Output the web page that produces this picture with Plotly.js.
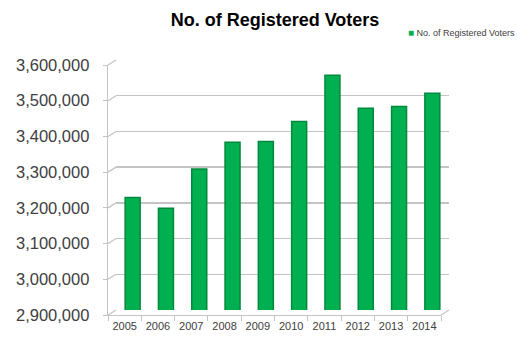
<!DOCTYPE html>
<html>
<head>
<meta charset="utf-8">
<script src="https://cdn.plot.ly/plotly-3.0.1.min.js"></script>
<style>html,body{margin:0;padding:0;background:#fff;}#chart{width:529px;height:340px;}</style>
</head>
<body>
<div id="chart"></div>
<script>
const years = ['2005','2006','2007','2008','2009','2010','2011','2012','2013','2014'];
const voters = [3215000, 3185000, 3295000, 3370000, 3372000, 3428000, 3557000, 3465000, 3470000, 3507000];
const yTicks = [2900000, 3000000, 3100000, 3200000, 3300000, 3400000, 3500000, 3600000];
const seriesName = 'No. of Registered Voters';
const chartTitle = 'No. of Registered Voters';

const W = 529, H = 340;
const yMin = 2900000, yMax = 3600000;
// pixel geometry (back wall = bars & grid, front = axis)
const back = {x0: 116, x1: 449, yb: 310, yt: 60};
const front = {x0: 108, x1: 441, yb: 315, yt: 65};
const px = x => x / W;
const py = y => (H - y) / H;

const gridColor = '#c4c4c4';
const barColor = '#00b050';
const shapes = [];
yTicks.forEach(v => {
  const f = (v - yMin) / (yMax - yMin);
  const yf = front.yb - f * (front.yb - front.yt);
  const yb = back.yb - f * (back.yb - back.yt);
  shapes.push({type: 'line', xref: 'paper', yref: 'paper',
    x0: px(front.x0), y0: py(yf), x1: px(back.x0), y1: py(yb),
    line: {color: gridColor, width: 1.3}});
});
shapes.push({type: 'line', xref: 'paper', yref: 'paper',
  x0: px(front.x1), y0: py(front.yb), x1: px(back.x1), y1: py(back.yb),
  line: {color: gridColor, width: 1.3}});

const data = [
  {type: 'bar', x: years, y: voters, name: seriesName, xaxis: 'x', yaxis: 'y',
   width: 0.45,
   marker: {color: barColor, line: {color: '#00893c', width: 1.5}},
   showlegend: false},
  {type: 'scatter', mode: 'markers', x: years, y: voters, xaxis: 'x2', yaxis: 'y2',
   marker: {opacity: 0}, hoverinfo: 'skip', showlegend: false}
];

const layout = {
  width: W, height: H,
  margin: {l: 0, r: 0, t: 0, b: 0},
  paper_bgcolor: '#fff', plot_bgcolor: 'rgba(0,0,0,0)',
  font: {family: 'Liberation Sans, Arial, sans-serif', color: '#404040'},
  title: {text: chartTitle, x: 275 / W, xanchor: 'center', y: py(20), yanchor: 'middle',
          font: {size: 18, color: '#000', family: 'Liberation Sans, Arial, sans-serif', weight: 'bold'}},
  showlegend: false,
  annotations: [{xref: 'paper', yref: 'paper', x: px(406), y: py(32), xanchor: 'left', yanchor: 'middle',
    showarrow: false,
    text: '<span style="color:' + barColor + ';font-size:10px">■</span> ' + seriesName,
    font: {size: 9, color: '#404040'}}],
  xaxis: {domain: [px(back.x0), px(back.x1)], anchor: 'y', type: 'category',
          categoryarray: years, range: [-0.5, 9.5], showticklabels: false,
          showgrid: false, zeroline: false, showline: false, ticks: ''},
  yaxis: {domain: [py(back.yb), py(back.yt)], anchor: 'x', range: [yMin, yMax],
          tickvals: yTicks, showticklabels: false, showgrid: true, gridcolor: gridColor,
          gridwidth: 1.3, zeroline: false, showline: false, ticks: ''},
  xaxis2: {domain: [px(front.x0), px(front.x1)], anchor: 'y2', type: 'category',
           categoryarray: years, range: [-0.5, 9.5], showgrid: false, zeroline: false,
           showline: true, linecolor: gridColor, linewidth: 1.3, ticks: 'outside',
           tickson: 'boundaries', ticklen: 5, tickcolor: gridColor, tickangle: 0,
           tickfont: {size: 11, color: '#404040'}},
  yaxis2: {domain: [py(front.yb), py(front.yt)], anchor: 'x2', range: [yMin, yMax],
           tickvals: yTicks, tickformat: ',', showgrid: false, zeroline: false,
           showline: true, linecolor: gridColor, linewidth: 1.3, ticks: 'outside',
           ticklen: 4, tickcolor: gridColor, ticklabelstandoff: 10,
           tickfont: {size: 16.5, color: '#404040'}},
  shapes: shapes
};

Plotly.newPlot('chart', data, layout, {displayModeBar: false, staticPlot: true});
</script>
</body>
</html>
